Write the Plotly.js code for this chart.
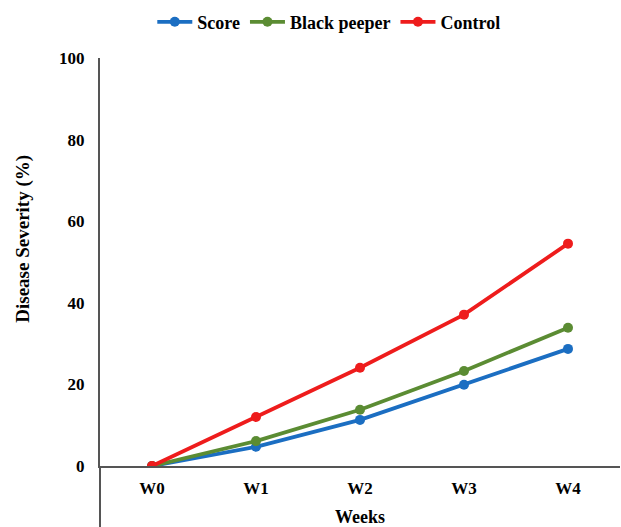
<!DOCTYPE html>
<html><head><meta charset="utf-8">
<script src="https://cdn.plot.ly/plotly-3.0.1.min.js"></script>
<style>html,body{margin:0;padding:0;background:#fff}#chart{width:621px;height:527px}</style>
</head><body><div id="chart"></div>
<script>
const weeks = ["W0", "W1", "W2", "W3", "W4"];
const scoreVals = [0, 4.7, 11.3, 19.9, 28.7];
const blackPeeperVals = [0, 6.1, 13.8, 23.3, 33.9];
const controlVals = [0, 12.0, 24.1, 37.1, 54.5];
const seriesNames = ["Score", "Black peeper", "Control"];
const yTicks = [0, 20, 40, 60, 80, 100];
const xTitle = "Weeks";
const yTitle = "Disease Severity (%)";

const fontFam = "Liberation Serif, Times New Roman, serif";
const colors = ["#1b6ec2", "#5b8c33", "#ee1c1c"];
const data = [scoreVals, blackPeeperVals, controlVals].map((v, i) => ({
  x: weeks, y: v, name: seriesNames[i], type: "scatter", mode: "lines+markers",
  line: {color: colors[i], width: 3.8}, marker: {color: colors[i], size: 10}
}));

const f = (s) => ({family: fontFam, size: s, color: "#000", weight: "bold"});
const layout = {
  width: 621, height: 527,
  margin: {l: 100, r: 1, t: 58, b: 61},
  paper_bgcolor: "#fff", plot_bgcolor: "#fff",
  font: f(17),
  showlegend: true,
  legend: {orientation: "h", x: 0.44, xanchor: "center", y: 1.088, yanchor: "middle",
    font: f(18), traceorder: "normal", itemwidth: 35},
  xaxis: {
    type: "category", range: [-0.5, 4.5], showgrid: false, zeroline: false,
    showline: true, linecolor: "#555", linewidth: 2, ticks: "",
    ticklabelstandoff: 6,
    tickfont: f(17),
    title: {text: xTitle, standoff: 17, font: f(18)}
  },
  yaxis: {
    range: [0, 100], tickvals: yTicks, showgrid: false, zeroline: false,
    showline: true, linecolor: "#555", linewidth: 2, ticks: "",
    ticklabelstandoff: 10,
    tickfont: f(17)
  },
  annotations: [{text: yTitle, xref: "paper", yref: "paper", x: -0.147, y: 0.556,
    xanchor: "center", yanchor: "middle", textangle: -90, showarrow: false, font: f(19)}],
  shapes: [{type: "line", xref: "paper", yref: "paper", x0: 0, x1: 0, y0: 0, y1: -0.16,
    line: {color: "#555", width: 2}}]
};
Plotly.newPlot("chart", data, layout, {displayModeBar: false, staticPlot: true});
</script></body></html>
